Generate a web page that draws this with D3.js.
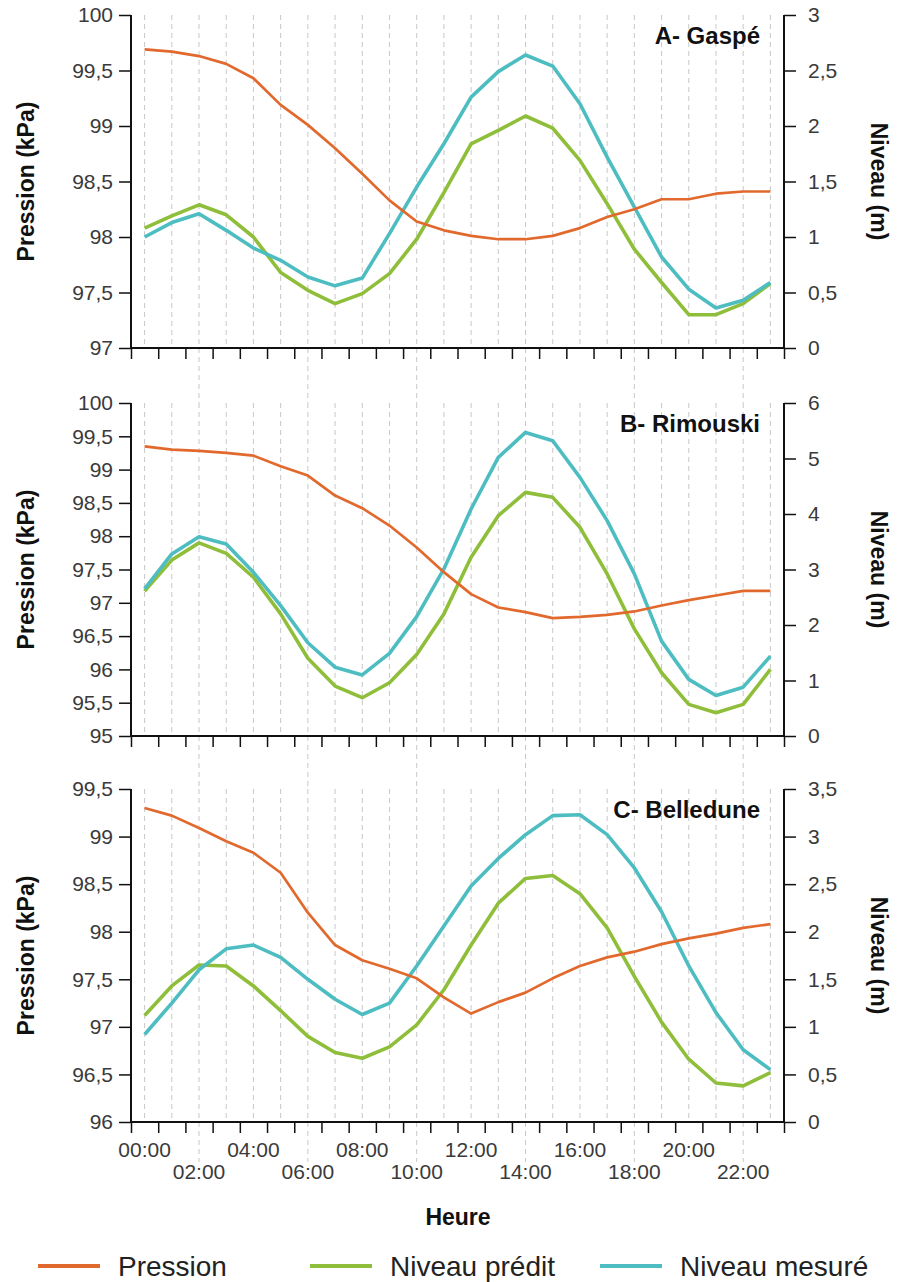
<!DOCTYPE html>
<html>
<head>
<meta charset="utf-8">
<script src="https://cdn.jsdelivr.net/npm/d3@7"></script>
<style>
  body { margin: 0; background: #fff; }
  text { font-family: "Liberation Sans", Arial, sans-serif; }
</style>
</head>
<body>
<div id="chart"></div>
<script>
// hours of the day
const hours = ["00:00","01:00","02:00","03:00","04:00","05:00","06:00","07:00","08:00","09:00","10:00","11:00",
               "12:00","13:00","14:00","15:00","16:00","17:00","18:00","19:00","20:00","21:00","22:00","23:00"];

// A- Gaspé
const gaspePression = [99.69,99.67,99.63,99.56,99.43,99.19,99.01,98.80,98.57,98.33,98.14,98.06,
                       98.01,97.98,97.98,98.01,98.08,98.18,98.25,98.34,98.34,98.39,98.41,98.41];
const gaspePredit   = [1.08,1.19,1.29,1.20,1.00,0.68,0.52,0.40,0.49,0.67,0.98,1.40,
                       1.84,1.96,2.09,1.98,1.69,1.30,0.89,0.59,0.30,0.30,0.40,0.58];
const gaspeMesure   = [1.00,1.13,1.21,1.06,0.90,0.79,0.64,0.56,0.63,1.03,1.45,1.84,
                       2.26,2.49,2.64,2.54,2.20,1.72,1.27,0.82,0.53,0.36,0.43,0.59];

// B- Rimouski
const rimouskiPression = [99.35,99.30,99.28,99.25,99.21,99.05,98.91,98.61,98.42,98.16,97.83,97.46,
                          97.13,96.93,96.86,96.77,96.79,96.82,96.87,96.96,97.04,97.11,97.18,97.18];
const rimouskiPredit   = [2.61,3.17,3.48,3.29,2.86,2.20,1.40,0.90,0.69,0.96,1.47,2.20,
                          3.22,3.97,4.39,4.30,3.76,2.92,1.93,1.14,0.57,0.42,0.57,1.20];
const rimouskiMesure   = [2.65,3.28,3.59,3.46,2.95,2.35,1.68,1.24,1.10,1.49,2.15,3.01,
                          4.09,5.02,5.47,5.32,4.66,3.88,2.92,1.71,1.02,0.73,0.88,1.44];

// C- Belledune
const belledunePression = [99.30,99.22,99.09,98.95,98.83,98.62,98.20,97.86,97.70,97.61,97.51,97.31,
                           97.14,97.26,97.36,97.51,97.64,97.73,97.79,97.87,97.93,97.98,98.04,98.08];
const belledunePredit   = [1.12,1.43,1.65,1.64,1.43,1.17,0.90,0.73,0.67,0.79,1.02,1.39,
                           1.86,2.30,2.56,2.59,2.40,2.04,1.53,1.05,0.66,0.41,0.38,0.52];
const belleduneMesure   = [0.92,1.25,1.60,1.82,1.86,1.73,1.50,1.29,1.13,1.25,1.64,2.06,
                           2.48,2.77,3.02,3.22,3.23,3.02,2.67,2.21,1.64,1.15,0.76,0.55];

// axis ranges per station
const stations = ["A- Gaspé", "B- Rimouski", "C- Belledune"];
const pressionDomains = [[97, 100], [95, 100], [96, 99.5]];
const niveauDomains = [[0, 3], [0, 6], [0, 3.5]];
const niveauSteps = [0.5, 1, 0.5];
const seriesNames = ["Pression", "Niveau prédit", "Niveau mesuré"];

const pressionData = [gaspePression, rimouskiPression, belledunePression];
const preditData = [gaspePredit, rimouskiPredit, belledunePredit];
const mesureData = [gaspeMesure, rimouskiMesure, belleduneMesure];

const colors = { pression: "#e2692d", predit: "#8fbe3a", mesure: "#4dbdc2" };

const width = 901, height = 1282;
const left = 131, right = 784;
const panelTops = [15, 403, 789];
const panelH = 333;

const svg = d3.select("#chart").append("svg")
    .attr("width", width)
    .attr("height", height);

const x = d3.scaleBand().domain(hours).range([left, right]).padding(0);
const xTicks = d3.scaleLinear().domain([0, hours.length]).range([left, right]);
const xc = h => x(h) + x.bandwidth() / 2;

const fmt = d => String(+d.toFixed(1)).replace(".", ",");

stations.forEach((name, p) => {
    const top = panelTops[p], bottom = top + panelH;
    const yL = d3.scaleLinear().domain(pressionDomains[p]).range([bottom, top]);
    const yR = d3.scaleLinear().domain(niveauDomains[p]).range([bottom, top]);
    const g = svg.append("g");

    // dashed grid at every hour, some run down through the gap
    const extend = p < 2 ? panelTops[p + 1] : bottom + 40;
    g.selectAll(".grid").data(hours).enter().append("line")
        .attr("x1", d => xc(d)).attr("x2", d => xc(d))
        .attr("y1", top)
        .attr("y2", (d, i) => i % 4 === 2 ? extend : bottom)
        .attr("stroke", "#c8c8c8")
        .attr("stroke-width", 1)
        .attr("stroke-dasharray", "5,4");

    // lines
    const series = [
        { values: preditData[p], color: colors.predit, w: 3.6 },
        { values: mesureData[p], color: colors.mesure, w: 3.6 },
        { values: pressionData[p], color: colors.pression, w: 2.7, left: true }
    ];
    series.forEach(s => {
        const line = d3.line()
            .x((d, i) => xc(hours[i]))
            .y(d => s.left ? yL(d) : yR(d));
        g.append("path")
            .datum(s.values)
            .attr("fill", "none")
            .attr("stroke", s.color)
            .attr("stroke-width", s.w)
            .attr("stroke-linejoin", "round")
            .attr("d", line);
    });

    // left axis
    const leftTicks = d3.range(pressionDomains[p][0], pressionDomains[p][1] + 0.001, 0.5);
    const axL = g.append("g")
        .attr("transform", `translate(${left},0)`)
        .call(d3.axisLeft(yL).tickValues(leftTicks).tickFormat(fmt).tickSize(12).tickPadding(6));
    // right axis
    const rightTicks = d3.range(niveauDomains[p][0], niveauDomains[p][1] + 0.001, niveauSteps[p]);
    const axR = g.append("g")
        .attr("transform", `translate(${right},0)`)
        .call(d3.axisRight(yR).tickValues(rightTicks).tickFormat(fmt).tickSize(12).tickPadding(12));
    // bottom axis
    const axB = g.append("g")
        .attr("transform", `translate(0,${bottom})`)
        .call(d3.axisBottom(xTicks).tickValues(d3.range(0, hours.length + 1)).tickFormat("").tickSize(11));

    [axL, axR, axB].forEach(a => {
        a.select(".domain").attr("stroke", "#111").attr("stroke-width", 2);
        a.selectAll(".tick line").attr("stroke", "#111").attr("stroke-width", 1.5);
        a.selectAll(".tick text").attr("fill", "#3a3a3a").style("font-size", "21px")
            .style("font-family", "'Liberation Sans', Arial, sans-serif");
    });
    axL.select(".domain").attr("d", `M0,${bottom}V${top}`);
    axR.select(".domain").attr("d", `M0,${bottom}V${top}`);
    axB.select(".domain").attr("d", `M${left},0H${right}`);

    // station label
    g.append("text")
        .attr("x", 760).attr("y", top + 29)
        .attr("text-anchor", "end")
        .style("font-size", "24px").style("font-weight", "bold")
        .attr("fill", "#111")
        .text(name);

    // axis titles
    const mid = (top + bottom) / 2;
    g.append("text")
        .attr("transform", `translate(34,${mid}) rotate(-90)`)
        .attr("text-anchor", "middle")
        .style("font-size", "23px").style("font-weight", "bold")
        .attr("fill", "#111")
        .text("Pression (kPa)");
    g.append("text")
        .attr("transform", `translate(871,${mid}) rotate(90)`)
        .attr("text-anchor", "middle")
        .style("font-size", "23px").style("font-weight", "bold")
        .attr("fill", "#111")
        .text("Niveau (m)");

    // hour labels on the last panel only
    if (p === 2) {
        g.selectAll(".hl").data(hours.filter((h, i) => i % 2 === 0)).enter().append("text")
            .attr("x", d => xc(d))
            .attr("y", (d, i) => bottom + (i % 2 === 0 ? 35 : 57))
            .attr("text-anchor", "middle")
            .style("font-size", "21px")
            .attr("fill", "#3a3a3a")
            .text(d => d);
    }
});

// x title
svg.append("text")
    .attr("x", 458).attr("y", 1225)
    .attr("text-anchor", "middle")
    .style("font-size", "23px").style("font-weight", "bold")
    .attr("fill", "#111")
    .text("Heure");

// legend
const legendX = [38, 310, 600];
const legendColors = [colors.pression, colors.predit, colors.mesure];
const lg = svg.append("g").selectAll("g").data(seriesNames).enter().append("g")
    .attr("transform", (d, i) => `translate(${legendX[i]},1266)`);
lg.append("line")
    .attr("x1", 0).attr("x2", 62)
    .attr("stroke", (d, i) => legendColors[i])
    .attr("stroke-width", 4);
lg.append("text")
    .attr("x", 80).attr("y", 10)
    .style("font-size", "28px")
    .attr("fill", "#222")
    .text(d => d);
</script>
</body>
</html>
